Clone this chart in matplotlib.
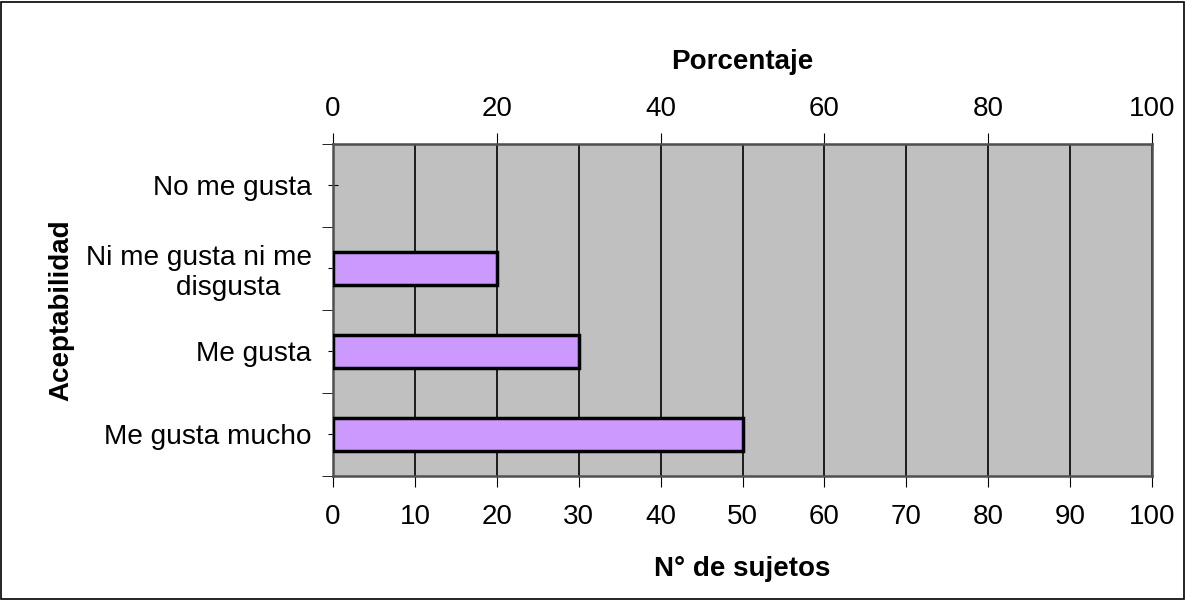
import numpy as np
import matplotlib.pyplot as plt
from matplotlib.patches import Rectangle

categorias = ['Me gusta mucho', 'Me gusta', 'Ni me gusta ni me\ndisgusta    ', 'No me gusta']
sujetos = [50, 30, 20, 0]
ticks_inf = list(range(0, 101, 10))
ticks_sup = list(range(0, 101, 20))

plt.rcParams['font.family'] = ['Liberation Sans', 'DejaVu Sans']

fig = plt.figure(figsize=(11.86, 6), dpi=100)
ax = fig.add_axes([0.2808, 0.2067, 0.6906, 0.5533])
ax.set_facecolor('#C0C0C0')

y = np.arange(len(categorias))
# barras sin borde cuando el valor es cero
bordes = [2.5 if v else 0 for v in sujetos]
ax.barh(y, sujetos, height=0.4, color='#CC99FF', edgecolor='black', linewidth=bordes, zorder=3)

ax.set_xlim(0, 100)
ax.set_ylim(-0.5, 3.5)
ax.set_xticks(ticks_inf)
ax.xaxis.grid(True, color='black', linewidth=1.2, zorder=1)
ax.set_axisbelow(True)
ax.tick_params(axis='x', labelsize=20, length=8, direction='out', pad=12)
ax.set_xlabel('N° de sujetos', fontsize=20, fontweight='bold', labelpad=19)

ax.set_yticks(y)
ax.set_yticklabels(categorias, fontsize=20.2, ha='right', multialignment='right')
ax.tick_params(axis='y', which='major', length=7, direction='inout', pad=12)
ax.set_yticks(np.arange(-0.5, 3.6, 1), minor=True)
ax.tick_params(axis='y', which='minor', length=8, direction='out')
ax.set_ylabel('Aceptabilidad', fontsize=20, fontweight='bold', labelpad=8)

for s in ax.spines.values():
    s.set_color('#505050')
    s.set_linewidth(1.8)

top = ax.secondary_xaxis('top')
top.set_xticks(ticks_sup)
top.tick_params(labelsize=20, length=8, pad=8)
top.set_xlabel('Porcentaje', fontsize=20, fontweight='bold', labelpad=19)

fig.patches.append(Rectangle((0.001, 0.002), 0.997, 0.995, transform=fig.transFigure,
                             fill=False, edgecolor='black', linewidth=1.2))

fig.savefig('out.png', dpi=100)
